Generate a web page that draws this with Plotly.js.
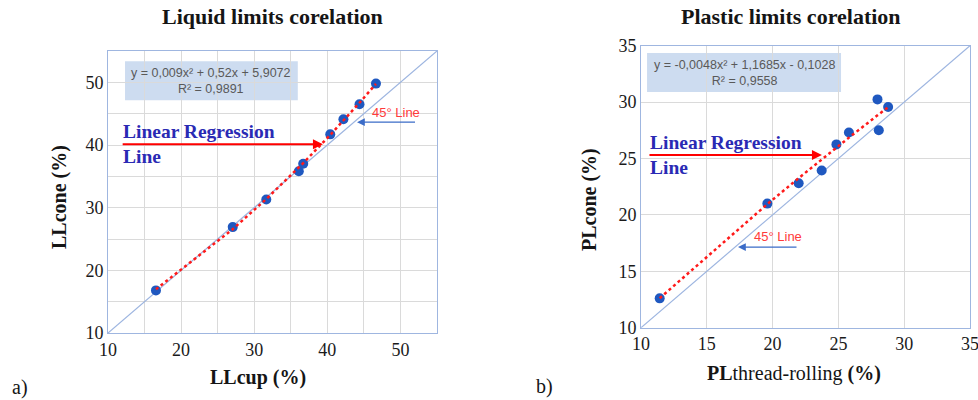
<!DOCTYPE html>
<html><head><meta charset="utf-8">
<script src="https://cdn.plot.ly/plotly-3.0.1.min.js"></script>
<style>html,body{margin:0;padding:0;background:#fff}#chart{width:978px;height:400px}</style>
</head><body><div id="chart"></div>
<script>
// ---- data ----
const llCup  = [16.56, 27.06, 31.65, 36.1, 36.7, 40.4, 42.2, 44.4, 46.65];
const llCone = [16.8, 26.9, 31.3, 35.8, 37.0, 41.7, 44.1, 46.5, 49.8];
const llFit  = [0.009, 0.52, 5.9072];          // y = a x^2 + b x + c (shown on chart)
const plThread = [11.42, 19.6, 21.98, 23.73, 24.85, 25.8, 27.97, 28.07, 28.78];
const plCone   = [12.6, 21.0, 22.8, 23.94, 26.25, 27.3, 30.24, 27.5, 29.56];
const plFit    = [-0.0048, 1.1685, -0.1028];
const llRange = [10, 55];
const plRange = [10, 35];
const llLine45 = [10, 55];
const plLine45 = [10, 35];
const titles = ['Liquid limits corelation', 'Plastic limits corelation'];
const llEq = ['y = 0,009x² + 0,52x + 5,9072', 'R² = 0,9891'];
const plEq = ['y = -0,0048x² + 1,1685x - 0,1028', 'R² = 0,9558'];
const axisTitles = ['LLcup (%)', 'LLcone (%)', 'PLthread-rolling (%)', 'PLcone (%)'];
const panelLabels = ['a)', 'b)'];

// fitted values at the observed x positions
function fitted(xs, c) {
  const sx = xs.slice().sort((a, b) => a - b);
  return {x: sx, y: sx.map(x => c[0] * x * x + c[1] * x + c[2])};
}
const llT = fitted(llCup, llFit);
const plT = fitted(plThread, plFit);

const W = 978, H = 400;
const serif = 'Liberation Serif, Times New Roman, serif';
const sans = 'Liberation Sans, Arial, sans-serif';
const gridC = '#dadada';
const frameC = '#9fb6e0';
const markC = '#1f58c0';
const line45C = '#9db5e0';

function axis(domain, range, dtick, minor, anchor) {
  const a = {
    domain: domain, range: range, anchor: anchor,
    tickmode: 'linear', tick0: range[0], dtick: dtick,
    showgrid: true, gridcolor: gridC, gridwidth: 1,
    zeroline: false, showline: true, mirror: true, linecolor: frameC, linewidth: 1,
    ticks: '', ticklen: 0, ticklabeloverflow: 'allow',
    tickfont: {family: serif, size: 18, color: '#1a1a1a'},
    fixedrange: true
  };
  if (minor) a.minor = {dtick: minor, tick0: range[0], showgrid: true, gridcolor: gridC, gridwidth: 1, ticks: ''};
  return a;
}

const traces = [
  {x: llLine45, y: llLine45, xaxis: 'x', yaxis: 'y', mode: 'lines', line: {color: line45C, width: 1.2}, hoverinfo: 'skip'},
  {x: llCup, y: llCone, xaxis: 'x', yaxis: 'y', mode: 'markers', marker: {color: markC, size: 10}},
  {x: llT.x, y: llT.y, xaxis: 'x', yaxis: 'y', mode: 'lines', line: {color: '#ff1a1a', width: 2.5, dash: 'dot'}},
  {x: plLine45, y: plLine45, xaxis: 'x2', yaxis: 'y2', mode: 'lines', line: {color: line45C, width: 1.2}, hoverinfo: 'skip'},
  {x: plThread, y: plCone, xaxis: 'x2', yaxis: 'y2', mode: 'markers', marker: {color: markC, size: 10}},
  {x: plT.x, y: plT.y, xaxis: 'x2', yaxis: 'y2', mode: 'lines', line: {color: '#ff1a1a', width: 2.5, dash: 'dot'}}
];

function paperText(px, py, text, size, extra) {
  return Object.assign({xref: 'paper', yref: 'paper', x: px / W, y: 1 - py / H, xanchor: 'center', yanchor: 'middle',
    text: text, showarrow: false, font: {family: serif, size: size, color: '#151515'}}, extra || {});
}

const blueTxt = '#2a2ab4';
const annotations = [
  // chart titles
  paperText(272, 17, '<b>' + titles[0] + '</b>', 22),
  paperText(791, 17, '<b>' + titles[1] + '</b>', 22),
  // axis titles
  paperText(258, 377, '<b>' + axisTitles[0] + '</b>', 20),
  paperText(60, 197, '<b>' + axisTitles[1] + '</b>', 20, {textangle: -90}),
  paperText(794, 373, '<b>PL</b>thread-rolling <b>(%)</b>', 20),
  paperText(589, 200, '<b>' + axisTitles[3] + '</b>', 20, {textangle: -90}),
  // panel labels
  paperText(20, 387, panelLabels[0], 20),
  paperText(544, 386, panelLabels[1], 20),
  // equations
  {xref: 'x', yref: 'y', x: 24.15, y: 50.27, xanchor: 'center', yanchor: 'middle', text: llEq.join('<br>'), showarrow: false, align: 'center', font: {family: sans, size: 12.5, color: '#595959'}},
  {xref: 'x2', yref: 'y2', x: 17.83, y: 32.62, xanchor: 'center', yanchor: 'middle', text: plEq.join('<br>'), showarrow: false, align: 'center', font: {family: sans, size: 12.5, color: '#595959'}},
  // Linear regression labels
  {xref: 'x', yref: 'y', x: 11.8, y: 40.1, xanchor: 'left', yanchor: 'middle', align: 'left', text: '<b>Linear Regression</b><br><b>Line</b>', showarrow: false, font: {family: serif, size: 19.5, color: blueTxt}},
  {xref: 'x', yref: 'y', axref: 'x', ayref: 'y', x: 39.4, y: 40.1, ax: 11.8, ay: 40.1, text: '', showarrow: true, arrowhead: 2, arrowsize: 1, arrowwidth: 2, arrowcolor: '#ff0000', standoff: 0},
  {xref: 'x2', yref: 'y2', x: 10.53, y: 25.3, xanchor: 'left', yanchor: 'middle', align: 'left', text: '<b>Linear Regression</b><br><b>Line</b>', showarrow: false, font: {family: serif, size: 19.5, color: blueTxt}},
  {xref: 'x2', yref: 'y2', axref: 'x2', ayref: 'y2', x: 23.75, y: 25.3, ax: 10.53, ay: 25.3, text: '', showarrow: true, arrowhead: 2, arrowsize: 1, arrowwidth: 2, arrowcolor: '#ff0000', standoff: 0},
  // 45 degree labels
  {xref: 'x', yref: 'y', x: 49.4, y: 45.2, xanchor: 'center', yanchor: 'middle', text: '45° Line', showarrow: false, font: {family: sans, size: 13, color: '#ff3b3b'}},
  {xref: 'x', yref: 'y', axref: 'x', ayref: 'y', x: 44.06, y: 43.65, ax: 52.2, ay: 43.65, text: '', showarrow: true, arrowhead: 2, arrowsize: 1.2, arrowwidth: 1.3, arrowcolor: '#3b6cc8', standoff: 0},
  {xref: 'x2', yref: 'y2', x: 20.4, y: 18.05, xanchor: 'center', yanchor: 'middle', text: '45° Line', showarrow: false, font: {family: sans, size: 13, color: '#ff3b3b'}},
  {xref: 'x2', yref: 'y2', axref: 'x2', ayref: 'y2', x: 17.37, y: 17.15, ax: 21.93, ay: 17.15, text: '', showarrow: true, arrowhead: 2, arrowsize: 1.2, arrowwidth: 1.3, arrowcolor: '#3b6cc8', standoff: 0}
];

const shapes = [
  {type: 'rect', xref: 'x', yref: 'y', x0: 12.33, x1: 35.96, y0: 47.16, y1: 53.38, fillcolor: '#cddcf0', line: {width: 0}, layer: 'below'},
  {type: 'rect', xref: 'x2', yref: 'y2', x0: 10.46, x1: 25.2, y0: 30.9, y1: 34.35, fillcolor: '#cddcf0', line: {width: 0}, layer: 'below'},
  {type: 'rect', xref: 'x', yref: 'y', x0: 10.2, x1: 36.5, y0: 36.2, y1: 44.5, fillcolor: '#ffffff', line: {width: 0}, layer: 'below'},
  {type: 'rect', xref: 'x2', yref: 'y2', x0: 10.1, x1: 22.6, y0: 22.0, y1: 27.2, fillcolor: '#ffffff', line: {width: 0}, layer: 'below'}
];

const layout = {
  width: W, height: H,
  margin: {l: 0, r: 0, t: 0, b: 0},
  paper_bgcolor: '#fff', plot_bgcolor: '#fff',
  showlegend: false,
  xaxis: axis([108 / W, 437 / W], llRange, 10, 5, 'y'),
  yaxis: axis([(H - 333) / H, (H - 51) / H], llRange, 10, 5, 'x'),
  xaxis2: axis([641 / W, 970 / W], plRange, 5, null, 'y2'),
  yaxis2: axis([(H - 327.7) / H, (H - 45.7) / H], plRange, 5, null, 'x2'),
  annotations: annotations,
  shapes: shapes
};

Plotly.newPlot('chart', traces, layout, {displayModeBar: false, staticPlot: true});
</script>
</body></html>
